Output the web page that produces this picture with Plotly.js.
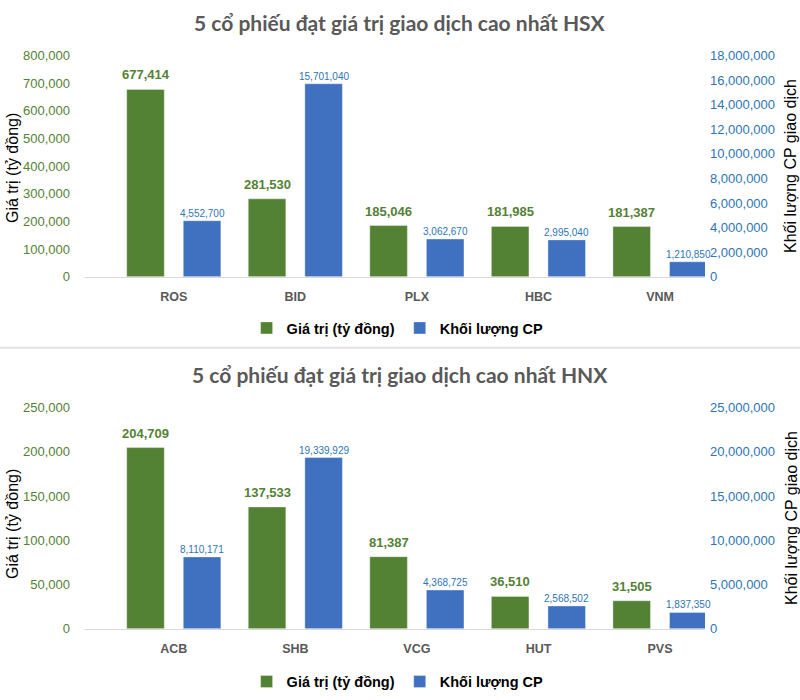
<!DOCTYPE html>
<html>
<head>
<meta charset="utf-8">
<script src="https://cdn.plot.ly/plotly-3.0.1.min.js"></script>
<style>html,body{margin:0;padding:0;background:#fff;}#chart{width:800px;height:700px;}</style>
</head>
<body>
<div id="chart"></div>
<script>
// ---- data ----
const hsxCats = ['ROS', 'BID', 'PLX', 'HBC', 'VNM'];
const hsxValue = [677414, 281530, 185046, 181985, 181387];
const hsxVolume = [4552700, 15701040, 3062670, 2995040, 1210850];
const hnxCats = ['ACB', 'SHB', 'VCG', 'HUT', 'PVS'];
const hnxValue = [204709, 137533, 81387, 36510, 31505];
const hnxVolume = [8110171, 19339929, 4368725, 2568502, 1837350];
const seriesNames = ['Giá trị (tỷ đồng)', 'Khối lượng CP'];
const titles = ['5 cổ phiếu đạt giá trị giao dịch cao nhất HSX', '5 cổ phiếu đạt giá trị giao dịch cao nhất HNX'];
const leftTitle = 'Giá trị (tỷ đồng)';
const rightTitle = 'Khối lượng CP giao dịch';

// ---- styles ----
const GREEN = '#548235', BLUE = '#4070C0', GREEN_T = '#548235', BLUE_T = '#2E75B6';
const NARROW = 'Liberation Sans Narrow, Arial Narrow, Liberation Sans, Arial, sans-serif';
const ARIAL = 'Liberation Sans, Arial, sans-serif';
const W = 800, H = 700;
const px = v => v / W, py = v => 1 - v / H;
const BW = 0.309, OFF_G = -0.3875, OFF_B = 0.078;

function barTrace(x, y, name, color, xa, ya, off, legend, show) {
  return {type: 'bar', x: x, y: y, name: name, xaxis: xa, yaxis: ya,
    width: BW, offset: off, marker: {color: color, line: {color: 'rgba(255,255,255,0.35)', width: 1}},
    legend: legend, showlegend: show, hoverinfo: 'skip'};
}
const data = [
  barTrace(hsxCats, hsxValue, seriesNames[0], GREEN, 'x', 'y', OFF_G, 'legend', true),
  barTrace(hsxCats, hsxVolume, seriesNames[1], BLUE, 'x', 'y2', OFF_B, 'legend', true),
  barTrace(hnxCats, hnxValue, seriesNames[0], GREEN, 'x2', 'y3', OFF_G, 'legend2', true),
  barTrace(hnxCats, hnxVolume, seriesNames[1], BLUE, 'x2', 'y4', OFF_B, 'legend2', true)
];

const ann = [];
const fmt = v => v.toLocaleString('en-US');
function labels(cats, vals, vols, xr, yL, yR) {
  cats.forEach((c, i) => {
    ann.push({xref: xr, yref: yL, x: c, y: vals[i], xshift: -28.3, yshift: 5, xanchor: 'center', yanchor: 'bottom',
      text: fmt(vals[i]), showarrow: false, font: {family: NARROW, size: 13, color: GREEN_T, weight: 'bold'}});
    ann.push({xref: xr, yref: yR, x: c, y: vols[i], xshift: 28.3, yshift: 0, xanchor: 'center', yanchor: 'bottom',
      text: fmt(vols[i]), showarrow: false, font: {family: NARROW, size: 10, color: BLUE_T}});
  });
}
labels(hsxCats, hsxValue, hsxVolume, 'x', 'y', 'y2');
labels(hnxCats, hnxValue, hnxVolume, 'x2', 'y3', 'y4');

[[22, 168, 166], [374, 524, 518]].forEach((p, k) => {
  ann.push({xref: 'paper', yref: 'paper', x: 0.5, y: py(p[0]), xanchor: 'center', yanchor: 'middle',
    text: '<b>' + titles[k] + '</b>', showarrow: false,
    font: {family: 'Lato, Calibri, sans-serif', size: 21, color: '#595959'}});
  ann.push({xref: 'paper', yref: 'paper', x: px(12), y: py(p[1]), xanchor: 'center', yanchor: 'middle',
    text: leftTitle, textangle: -90, showarrow: false, font: {family: ARIAL, size: 16, color: '#000'}});
  ann.push({xref: 'paper', yref: 'paper', x: px(791), y: py(p[2]), xanchor: 'center', yanchor: 'middle',
    text: rightTitle, textangle: -90, showarrow: false, font: {family: ARIAL, size: 16, color: '#000'}});
});

const xdom = [px(85), px(705)];
const xr = [-0.7306, 4.370];
const xax = a => ({domain: xdom, anchor: a, type: 'category', range: xr, showline: true, linecolor: '#d9d9d9', linewidth: 1.5,
  ticks: '', showgrid: false, zeroline: false, ticklabelstandoff: 8, fixedrange: true,
  tickfont: {family: ARIAL, size: 12.5, color: '#595959', weight: 'bold'}});
const yL = (dom, max, dt, a) => ({domain: dom, anchor: a, range: [0, max], dtick: dt, tickformat: ',d', showgrid: false,
  zeroline: false, showline: false, ticks: '', ticklabelstandoff: 14, tickfont: {family: ARIAL, size: 13, color: GREEN_T}});
const yR = (ov, max, dt, a) => ({overlaying: ov, side: 'right', anchor: a, range: [0, max], dtick: dt, tickformat: ',d',
  showgrid: false, zeroline: false, showline: false, ticks: '', ticklabelstandoff: 4, tickfont: {family: ARIAL, size: 13, color: BLUE_T}});

const legendStyle = y => ({orientation: 'h', x: 0.497, xanchor: 'center', y: y, yanchor: 'middle',
  font: {family: ARIAL, size: 14.5, color: '#000', weight: 'bold'}, bgcolor: 'rgba(0,0,0,0)'});

const layout = {
  width: W, height: H, margin: {l: 0, r: 0, t: 0, b: 0}, paper_bgcolor: '#fff', plot_bgcolor: '#fff',
  barmode: 'overlay', showlegend: true,
  xaxis: xax('y'), xaxis2: xax('y3'),
  yaxis: yL([py(276.7), py(55.5)], 800000, 100000, 'x'),
  yaxis2: yR('y', 18000000, 2000000, 'x'),
  yaxis3: yL([py(628.7), py(407.5)], 250000, 50000, 'x2'),
  yaxis4: yR('y3', 25000000, 5000000, 'x2'),
  legend: legendStyle(py(328)), legend2: legendStyle(py(681.5)),
  annotations: ann,
  shapes: [{type: 'line', xref: 'paper', yref: 'paper', x0: 0, x1: 1, y0: py(347.7), y1: py(347.7),
    line: {color: '#e3e3e3', width: 2}}]
};
Plotly.newPlot('chart', data, layout, {displayModeBar: false, staticPlot: true});
</script>
</body>
</html>
